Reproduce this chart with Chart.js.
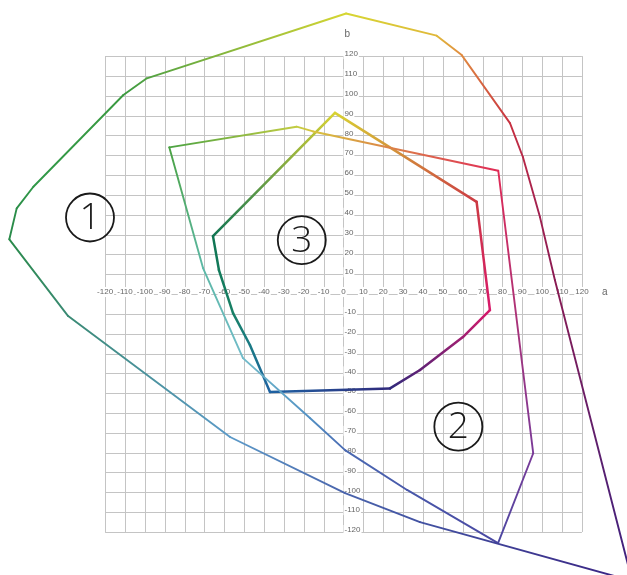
<!DOCTYPE html>
<html>
<head>
<meta charset="utf-8">
<title>a*b* gamut</title>
<script src="https://cdn.jsdelivr.net/npm/chart.js@4.4.1/dist/chart.umd.min.js"></script>
<style>
  html, body { margin: 0; padding: 0; background: #fff; }
  .wrap { position: relative; width: 627px; height: 575px; }
</style>
</head>
<body>
<div class="wrap"><canvas id="myChart"></canvas></div>
<script>
// outline vertices in the a*/b* plane, one pair of arrays per gamut
const gamut1A = [1.3, 46.9, 59.5, 83.8, 90.3, 98.9, 106.4, 145.3, 38.5, 0.8, -57.1, -138.6, -168.2, -164.5, -156.1, -110.8, -99];
const gamut1B = [141.5, 130.3, 120.5, 86.2, 69.1, 38.8, 7.1, -144.7, -115, -100.4, -72.1, -11.1, 27.6, 43.2, 54.1, 100.4, 108.8];

const gamut2A = [-87.7, -23.6, -15.3, 77.9, 95.5, 77.8, 32, 0.8, -16.9, -50.6, -70.7];
const gamut2B = [74, 84.4, 82, 62.2, -80.3, -125.6, -98.8, -78.7, -62.5, -32.3, 13.1];

const gamut3A = [-4.3, 67, 73.7, 60.1, 38.5, 23.4, -37, -47.1, -55.6, -62.7, -65.7];
const gamut3B = [91.4, 46.5, -8.1, -21.7, -38.3, -47.6, -49.4, -25.7, -9.6, 12.1, 29.2];

const gamutNames = ["1", "2", "3"];
const gridTicks = [-120, -110, -100, -90, -80, -70, -60, -50, -40, -30, -20, -10, 0,
  10, 20, 30, 40, 50, 60, 70, 80, 90, 100, 110, 120];

// stroke colour at each vertex, blended along every edge
const gamut1Colors = ["#d6d632", "#e0b83a", "#e08a40", "#c83040", "#b82848", "#a02050", "#8a1a52",
  "#3a2282", "#4252a2", "#4a64ac", "#5c9ac8", "#3a8a74", "#2a8a4a", "#2a8e48", "#309848", "#3a9a40", "#52a242"];
const gamut2Colors = ["#4aa242", "#c2cc42", "#d8c23e", "#e02a56", "#7a3a98", "#4a48a2", "#4858aa",
  "#4a6ab2", "#5290c4", "#72bcca", "#5cb8a6"];
const gamut3Colors = ["#d8d232", "#cc3a44", "#d8186a", "#a02072", "#602074", "#302a7c", "#1e62a2",
  "#1a7a84", "#188066", "#127a5a", "#107452"];

const labelPos = [[-127.6, 38.6], [57.8, -66.9], [-21, 27.2]];

function toPoints(as, bs) {
  const pts = as.map((a, i) => ({ x: a, y: bs[i] }));
  pts.push({ x: as[0], y: bs[0] }); // close the outline
  return pts;
}

function edgeGradient(colors) {
  return (ctx) => {
    const g = ctx.chart.ctx.createLinearGradient(ctx.p0.x, ctx.p0.y, ctx.p1.x, ctx.p1.y);
    g.addColorStop(0, colors[ctx.p0DataIndex % colors.length]);
    g.addColorStop(1, colors[ctx.p1DataIndex % colors.length]);
    return g;
  };
}

function outline(as, bs, colors, width) {
  return {
    data: toPoints(as, bs),
    showLine: true,
    pointRadius: 0,
    borderWidth: width,
    borderColor: colors[0],
    borderJoinStyle: "round",
    borderCapStyle: "round",
    tension: 0,
    segment: { borderColor: edgeGradient(colors) },
  };
}

const gridPlugin = {
  id: "labGrid",
  beforeDatasetsDraw(chart) {
    const { ctx, scales: { x, y } } = chart;
    const lo = gridTicks[0];
    const hi = gridTicks[gridTicks.length - 1];
    ctx.save();
    ctx.strokeStyle = "#c4c4c4";
    ctx.lineWidth = 1;
    ctx.beginPath();
    gridTicks.forEach((v) => {
      const px = Math.round(x.getPixelForValue(v)) + 0.5;
      ctx.moveTo(px, y.getPixelForValue(hi));
      ctx.lineTo(px, y.getPixelForValue(lo));
      const py = Math.round(y.getPixelForValue(v)) + 0.5;
      ctx.moveTo(x.getPixelForValue(lo), py);
      ctx.lineTo(x.getPixelForValue(hi), py);
    });
    ctx.stroke();

    // tick labels sit on the zero lines
    ctx.font = "8px 'Liberation Sans', Arial, sans-serif";
    ctx.textBaseline = "middle";
    const x0 = x.getPixelForValue(0);
    const y0 = y.getPixelForValue(0);
    gridTicks.forEach((v) => {
      const t = String(v);
      const w = ctx.measureText(t).width;
      const cx = x.getPixelForValue(v);
      ctx.fillStyle = "#fff";
      ctx.fillRect(cx - w / 2 - 1, y0 - 7, w + 2, 10);
      ctx.fillStyle = "#666";
      ctx.textAlign = "center";
      ctx.fillText(t, cx, y0 - 2);
      if (v !== 0) {
        const cy = y.getPixelForValue(v) - 2;
        ctx.fillStyle = "#fff";
        ctx.fillRect(x0, cy - 5, w + 2, 10);
        ctx.fillStyle = "#666";
        ctx.textAlign = "left";
        ctx.fillText(t, x0 + 1, cy);
      }
    });
    ctx.font = "10px 'Liberation Sans', Arial, sans-serif";
    ctx.textAlign = "left";
    ctx.fillText("a", x.getPixelForValue(hi) + 20, y0 - 2);
    ctx.fillText("b", x0 + 1, y.getPixelForValue(hi) - 22);
    ctx.restore();
  },
  afterDatasetsDraw(chart) {
    const { ctx, scales: { x, y } } = chart;
    ctx.save();
    ctx.strokeStyle = "#1a1a1a";
    ctx.fillStyle = "#1a1a1a";
    ctx.lineWidth = 1.8;
    ctx.font = "300 37px 'Open Sans', 'Liberation Sans', sans-serif";
    ctx.textAlign = "center";
    ctx.textBaseline = "middle";
    gamutNames.forEach((name, i) => {
      const cx = x.getPixelForValue(labelPos[i][0]);
      const cy = y.getPixelForValue(labelPos[i][1]);
      ctx.beginPath();
      ctx.arc(cx, cy, 24, 0, Math.PI * 2);
      ctx.stroke();
      ctx.fillText(name, cx, cy + 1);
    });
    ctx.restore();
  },
};

new Chart(document.getElementById("myChart"), {
  type: "scatter",
  data: {
    datasets: [
      outline(gamut1A, gamut1B, gamut1Colors, 1.9),
      outline(gamut2A, gamut2B, gamut2Colors, 1.9),
      outline(gamut3A, gamut3B, gamut3Colors, 2.5),
    ],
  },
  plugins: [gridPlugin],
  options: {
    responsive: true,
    maintainAspectRatio: false,
    animation: false,
    layout: { padding: 0 },
    plugins: {
      legend: { display: false },
      tooltip: { enabled: false },
    },
    scales: {
      x: { type: "linear", display: false, min: -172.9, max: 142.7 },
      y: { type: "linear", display: false, min: -141.7, max: 148.3 },
    },
  },
});
</script>
</body>
</html>
